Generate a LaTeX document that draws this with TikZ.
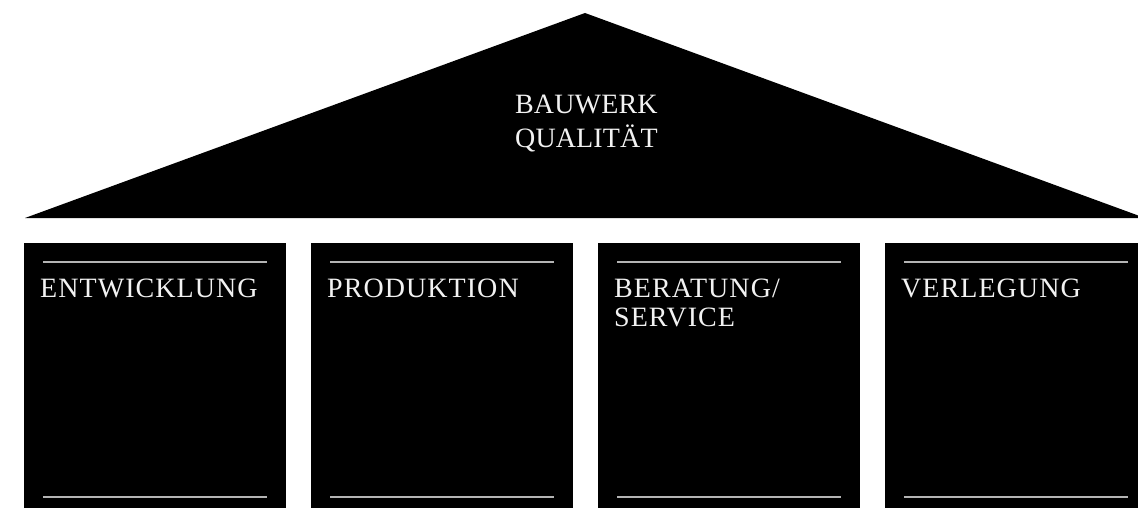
\documentclass[tikz,border=0pt]{standalone}
\usepackage{fontspec}
\setmainfont{Liberation Serif}
\newfontfamily\pillarfont[LetterSpace=3.8]{Liberation Serif}
\newfontfamily\rooffont[LetterSpace=0.5]{Liberation Serif}
\definecolor{rule}{HTML}{B4B4B4}
\definecolor{txt}{HTML}{F2F2F2}
\tikzset{
  pillar/.style={fill=black, draw=none, inner sep=0pt, minimum width=262pt, minimum height=275pt, anchor=north west},
  rulel/.style={draw=rule, line width=1.2pt},
  pillartext/.style={text=txt, inner sep=0pt, anchor=base west, align=left, font=\pillarfont\fontsize{28}{29}\selectfont},
  rooftext/.style={text=txt, inner sep=0pt, anchor=base west, align=left, font=\rooffont\fontsize{28}{34.5}\selectfont},
}
\begin{document}
\begin{tikzpicture}[x=1pt, y=-1pt]
\useasboundingbox (0,0) rectangle (1138,508);
\clip (0,0) rectangle (1138,508);
% roof
\coordinate (rl) at (25,218);
\coordinate (ra) at (585,13);
\coordinate (rr) at (1145,218);
\fill[black] (rl) -- (ra) -- (rr) -- cycle;
\node[rooftext] (roof) at (515,147.5) {BAUWERK\\QUALITÄT};
% pillars
\foreach \i/\x/\y/\t in {1/24/297.5/{ENTWICKLUNG}, 2/311/297.5/{PRODUKTION}, 3/598/326.5/{BERATUNG/\\SERVICE}, 4/885/297.5/{VERLEGUNG}} {
  \node[pillar] (p\i) at (\x,243) {};
  \coordinate (tl\i) at (\x+19,262);
  \coordinate (tr\i) at (\x+243,262);
  \coordinate (bl\i) at (\x+19,497);
  \coordinate (br\i) at (\x+243,497);
  \draw[rulel] (tl\i) -- (tr\i);
  \draw[rulel] (bl\i) -- (br\i);
  \node[pillartext] (t\i) at (\x+16,\y) {\t};
}
\end{tikzpicture}
\end{document}
